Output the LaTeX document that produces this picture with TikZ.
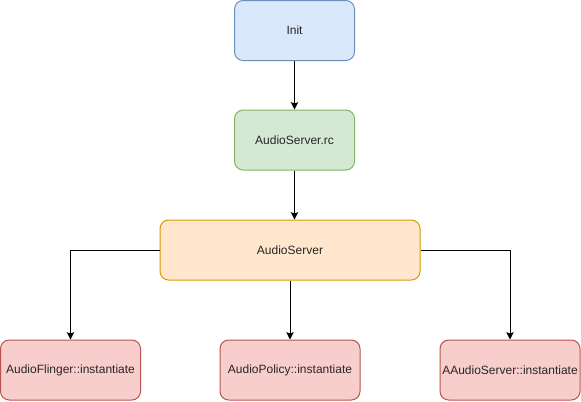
\documentclass[tikz,border=0pt]{standalone}
\usepackage{fontspec}
\setmainfont{Liberation Sans}
\usetikzlibrary{arrows.meta}
\definecolor{bluef}{HTML}{DAE8FC}\definecolor{blued}{HTML}{6C8EBF}
\definecolor{greenf}{HTML}{D5E8D4}\definecolor{greend}{HTML}{82B366}
\definecolor{orangef}{HTML}{FFE6CC}\definecolor{oranged}{HTML}{D79B00}
\definecolor{redf}{HTML}{F8CECC}\definecolor{redd}{HTML}{B85450}
\begin{document}
\begin{tikzpicture}[x=0.75pt,y=-0.75pt,
  box/.style={rectangle,rounded corners=6.5pt,line width=0.75pt,inner sep=0pt,font=\fontsize{9pt}{11pt}\selectfont,text=black!85},
  smallbox/.style={box,minimum width=90pt,minimum height=45pt},
  botbox/.style={box,minimum width=105pt,minimum height=45pt,fill=redf,draw=redd},
  conn/.style={line width=0.75pt,-{Stealth[length=5.5pt,width=5.5pt,inset=1pt]}}]
\useasboundingbox (0,0) rectangle (581,401);
\node[smallbox,fill=bluef,draw=blued] (init) at (294.5,30.5) {Init};
\node[smallbox,fill=greenf,draw=greend] (rc) at (294.5,140) {AudioServer.rc};
\node[box,minimum width=195pt,minimum height=45pt,fill=orangef,draw=oranged] (as) at (290,250) {AudioServer};
\node[botbox] (af) at (70.5,370) {AudioFlinger::instantiate};
\node[botbox] (ap) at (290,370) {AudioPolicy::instantiate};
\node[botbox] (aa) at (510,370) {AAudioServer::instantiate};
\draw[conn] (init) -- (rc);
\draw[conn] (rc) -- (rc |- as.north);
\draw[conn] (as.west) -| (af.north);
\draw[conn] (as) -- (ap);
\draw[conn] (as.east) -| (aa.north);
\end{tikzpicture}
\end{document}
